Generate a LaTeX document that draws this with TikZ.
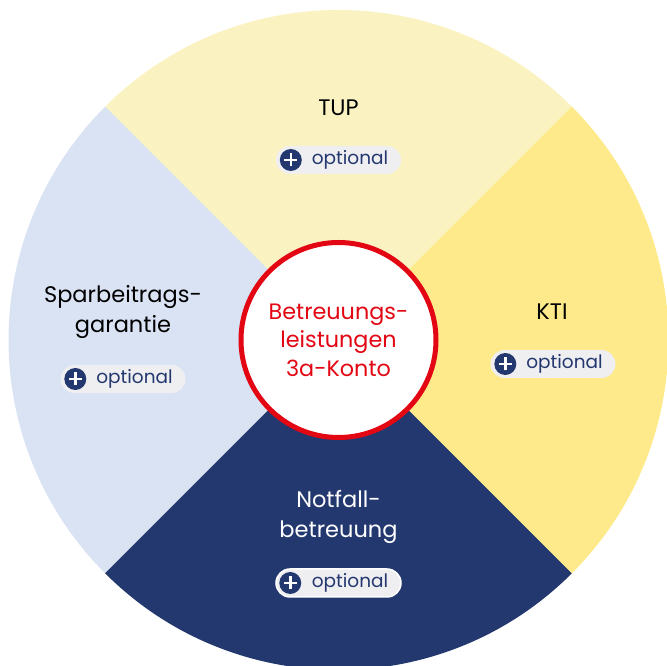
\documentclass[tikz,border=0pt]{standalone}
\usepackage{fontspec}
\setmainfont{Poppins}
\definecolor{navy}{HTML}{243870}
\definecolor{lightyellow}{HTML}{FAF3C1}
\definecolor{brightyellow}{HTML}{FEEA8A}
\definecolor{lightblue}{HTML}{DAE3F4}
\definecolor{cred}{HTML}{E30613}
\definecolor{pillgray}{HTML}{EFEFF2}
\tikzset{
  pill/.style={rectangle, rounded corners=14pt, fill=pillgray, minimum width=125pt, minimum height=28pt, inner sep=0pt},
  pillw/.style={pill, draw=white, line width=1.5pt},
  plusdot/.style={circle, fill=navy, minimum size=22pt, inner sep=0pt,
    path picture={\draw[white, line width=2.6pt] ([xshift=-6.5pt]path picture bounding box.center) -- ([xshift=6.5pt]path picture bounding box.center);
                  \draw[white, line width=2.6pt] ([yshift=-6.5pt]path picture bounding box.center) -- ([yshift=6.5pt]path picture bounding box.center);}},
  opttext/.style={text=navy, font=\fontsize{18.5}{20}\selectfont, inner sep=0pt},
  label/.style={align=center, font=\fontsize{22.5}{30}\selectfont, inner sep=0pt},
}
\begin{document}
\begin{tikzpicture}[x=1pt,y=1pt]
\useasboundingbox (0,0) rectangle (667,666);
\coordinate (C) at (338.5,326);
\fill[lightyellow] (C) -- ++(45:330) arc[start angle=45, end angle=135, radius=330] -- cycle;
\fill[lightblue] (C) -- ++(135:330) arc[start angle=135, end angle=225, radius=330] -- cycle;
\fill[navy] (C) -- ++(225:330) arc[start angle=225, end angle=315, radius=330] -- cycle;
\fill[brightyellow] (C) -- ++(-45:330) arc[start angle=-45, end angle=45, radius=330] -- cycle;
\node[circle, draw=cred, line width=5pt, fill=white, minimum size=195pt] (mid) at (C) {};
\node[label, text=cred, font=\fontsize{22.3}{28.5}\selectfont] (midtext) at (C) {Betreuungs-\\leistungen\\3a-Konto};
% TUP
\node[label] (tup) at (338.5,558) {TUP};
\node[pill] (p1) at (338.5,506) {};
\node[plusdot] (p1plus) at ([xshift=15pt]p1.west) {};
\node[opttext] (p1text) at ([xshift=11.5pt]p1.center) {optional};
% KTI
\node[label] (kti) at (552,354) {KTI};
\node[pill] (p2) at (553,302) {};
\node[plusdot] (p2plus) at ([xshift=15pt]p2.west) {};
\node[opttext] (p2text) at ([xshift=11.5pt]p2.center) {optional};
% Sparbeitragsgarantie
\node[label] (spar) at (123,354) {Sparbeitrags-\\garantie};
\node[pill] (p3) at (123,287) {};
\node[plusdot] (p3plus) at ([xshift=15pt]p3.west) {};
\node[opttext] (p3text) at ([xshift=11.5pt]p3.center) {optional};
% Notfall
\node[label, text=white] (notfall) at (338.5,149.5) {Notfall-\\betreuung};
\node[pillw] (p4) at (338.5,83) {};
\node[plusdot] (p4plus) at ([xshift=15pt]p4.west) {};
\node[opttext] (p4text) at ([xshift=11.5pt]p4.center) {optional};
\end{tikzpicture}
\end{document}
